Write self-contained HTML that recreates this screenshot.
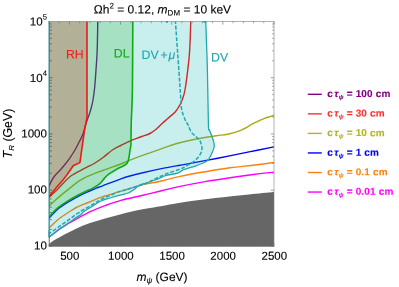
<!DOCTYPE html>
<html><head><meta charset="utf-8"><title>plot</title>
<style>
html,body{margin:0;padding:0;background:#fff}
body{width:399px;height:287px;position:relative;overflow:hidden;font-family:"Liberation Sans",sans-serif;color:#000;-webkit-text-stroke:0.12px currentColor}
.t,.yl,.xl,.lg{position:absolute;left:0;top:0;white-space:nowrap;line-height:1;transform-origin:0 0}
.yl{font-size:11.6px}
.xl{font-size:11.5px}
.lg{line-height:15px;height:15px;font-size:10px;font-weight:bold;letter-spacing:0.18px}
.lg sub{font-size:6.2px;vertical-align:-2.3px;margin-left:0.3px;line-height:0;font-style:italic}
sup{font-size:7.6px;vertical-align:6.1px;line-height:0}
sub{line-height:0}
.s8{font-size:8px;vertical-align:-2px}
</style></head><body><div id="w" style="position:absolute;left:0;top:0;width:399px;height:287px;will-change:transform">
<svg width="399" height="287" viewBox="0 0 399 287" style="position:absolute;left:0;top:0">
<defs><clipPath id="cp"><rect x="49.0" y="21.4" width="225.0" height="225.1"/></clipPath></defs>
<g clip-path="url(#cp)" fill="none" stroke-linejoin="round">
<g stroke-width="1.4">
<path d="M97.80 20.00 C97.70 25.00 97.50 41.67 97.20 50.00 C96.90 58.33 96.43 63.67 96.00 70.00 C95.57 76.33 95.10 83.00 94.60 88.00 C94.10 93.00 93.57 96.67 93.00 100.00 C92.43 103.33 91.83 105.58 91.20 108.00 C90.57 110.42 89.87 112.50 89.20 114.50 C88.53 116.50 87.80 118.25 87.20 120.00 C86.60 121.75 86.33 122.57 85.60 125.00 C84.87 127.43 83.83 131.85 82.80 134.60 C81.77 137.35 80.70 138.93 79.40 141.50 C78.10 144.07 76.63 147.20 75.00 150.00 C73.37 152.80 71.35 155.80 69.60 158.30 C67.85 160.80 66.10 163.00 64.50 165.00 C62.90 167.00 61.58 168.55 60.00 170.30 C58.42 172.05 56.42 173.75 55.00 175.50 C53.58 177.25 52.50 178.97 51.50 180.80 C50.50 182.63 49.75 184.47 49.00 186.50 C48.25 188.53 47.33 191.92 47.00 193.00" stroke="#800080"/>
<path d="M190.80 20.00 C190.70 23.25 190.47 33.40 190.20 39.50 C189.93 45.60 189.68 50.90 189.20 56.60 C188.72 62.30 187.87 68.97 187.30 73.70 C186.73 78.43 186.35 81.55 185.80 85.00 C185.25 88.45 184.82 91.40 184.00 94.40 C183.18 97.40 182.33 100.12 180.90 103.00 C179.47 105.88 177.63 109.08 175.40 111.70 C173.17 114.32 169.85 116.62 167.50 118.70 C165.15 120.78 163.25 122.40 161.30 124.20 C159.35 126.00 157.68 127.95 155.80 129.50 C153.92 131.05 152.33 132.33 150.00 133.50 C147.67 134.67 144.00 135.68 141.80 136.50 C139.60 137.32 138.80 137.63 136.80 138.40 C134.80 139.17 132.45 139.92 129.80 141.10 C127.15 142.28 123.68 144.10 120.90 145.50 C118.12 146.90 116.02 147.55 113.10 149.50 C110.18 151.45 106.42 154.95 103.40 157.20 C100.38 159.45 97.73 161.33 95.00 163.00 C92.27 164.67 89.20 166.07 87.00 167.20 C84.80 168.33 84.55 168.30 81.80 169.80 C79.05 171.30 73.68 173.87 70.50 176.20 C67.32 178.53 65.05 181.40 62.70 183.80 C60.35 186.20 58.35 188.67 56.40 190.60 C54.45 192.53 52.57 194.05 51.00 195.40 C49.43 196.75 47.67 198.15 47.00 198.70" stroke="#ff0808"/>
<path d="M276.00 114.90 C274.08 115.48 268.18 117.02 264.50 118.40 C260.82 119.78 257.85 121.22 253.90 123.20 C249.95 125.18 245.18 128.47 240.80 130.30 C236.42 132.13 231.67 133.30 227.60 134.20 C223.53 135.10 220.88 135.02 216.40 135.70 C211.92 136.38 205.93 137.33 200.70 138.30 C195.47 139.27 189.28 140.55 185.00 141.50 C180.72 142.45 178.73 142.85 175.00 144.00 C171.27 145.15 168.13 146.45 162.60 148.40 C157.07 150.35 147.53 153.62 141.80 155.70 C136.07 157.78 131.68 159.52 128.20 160.90 C124.72 162.28 125.17 162.40 120.90 164.00 C116.63 165.60 108.25 168.40 102.60 170.50 C96.95 172.60 91.03 174.78 87.00 176.60 C82.97 178.42 81.15 179.57 78.40 181.40 C75.65 183.23 73.12 185.52 70.50 187.60 C67.88 189.68 65.28 191.75 62.70 193.90 C60.12 196.05 57.28 198.48 55.00 200.50 C52.72 202.52 50.33 204.75 49.00 206.00 C47.67 207.25 47.33 207.67 47.00 208.00" stroke="#aaaa10"/>
<path d="M276.00 146.50 C271.50 147.40 258.72 149.95 249.00 151.90 C239.28 153.85 228.15 156.17 217.70 158.20 C207.25 160.23 192.58 162.93 186.30 164.10 C180.02 165.27 183.95 164.48 180.00 165.20 C176.05 165.92 168.97 167.10 162.60 168.40 C156.23 169.70 147.23 171.73 141.80 173.00 C136.37 174.27 133.48 175.02 130.00 176.00 C126.52 176.98 125.47 177.27 120.90 178.90 C116.33 180.53 106.45 184.37 102.60 185.80 C98.75 187.23 99.57 186.80 97.80 187.50 C96.03 188.20 93.80 189.23 92.00 190.00 C90.20 190.77 89.28 191.05 87.00 192.10 C84.72 193.15 81.48 194.62 78.30 196.30 C75.12 197.98 71.38 200.00 67.90 202.20 C64.42 204.40 60.55 206.82 57.40 209.50 C54.25 212.18 50.73 216.47 49.00 218.30 C47.27 220.13 47.33 220.13 47.00 220.50" stroke="#0000ff"/>
<path d="M276.00 162.30 C272.50 162.75 262.67 164.08 255.00 165.00 C247.33 165.92 238.33 166.67 230.00 167.80 C221.67 168.93 213.33 170.37 205.00 171.80 C196.67 173.23 187.07 174.92 180.00 176.40 C172.93 177.88 168.27 179.45 162.60 180.70 C156.93 181.95 149.97 183.07 146.00 183.90 C142.03 184.73 141.73 184.85 138.80 185.70 C135.87 186.55 131.53 188.07 128.40 189.00 C125.27 189.93 123.25 190.32 120.00 191.30 C116.75 192.28 112.23 193.85 108.90 194.90 C105.57 195.95 102.78 196.60 100.00 197.60 C97.22 198.60 94.87 199.80 92.20 200.90 C89.53 202.00 86.65 203.10 84.00 204.20 C81.35 205.30 78.42 206.45 76.30 207.50 C74.18 208.55 73.90 208.83 71.30 210.50 C68.70 212.17 63.18 215.75 60.70 217.50 C58.22 219.25 58.35 219.25 56.40 221.00 C54.45 222.75 50.57 226.47 49.00 228.00 C47.43 229.53 47.33 229.83 47.00 230.20" stroke="#ff8010"/>
<path d="M276.00 171.90 C272.50 172.30 262.67 173.33 255.00 174.30 C247.33 175.27 238.33 176.48 230.00 177.70 C221.67 178.92 213.33 180.15 205.00 181.60 C196.67 183.05 187.07 184.92 180.00 186.40 C172.93 187.88 168.97 188.98 162.60 190.50 C156.23 192.02 148.75 193.85 141.80 195.50 C134.85 197.15 127.03 198.70 120.90 200.40 C114.77 202.10 109.82 203.95 105.00 205.70 C100.18 207.45 95.17 209.55 92.00 210.90 C88.83 212.25 87.83 212.88 86.00 213.80 C84.17 214.72 82.45 215.62 81.00 216.40 C79.55 217.18 78.78 217.67 77.30 218.50 C75.82 219.33 73.83 220.43 72.10 221.40 C70.37 222.37 68.63 223.25 66.90 224.30 C65.17 225.35 63.45 226.50 61.70 227.70 C59.95 228.90 58.48 229.95 56.40 231.50 C54.32 233.05 50.77 235.78 49.20 237.00 C47.63 238.22 47.37 238.50 47.00 238.80" stroke="#ff00ff"/>
</g>
<path d="M205.70 20.00 C205.98 28.33 206.95 52.62 207.40 70.00 C207.85 87.38 208.05 114.30 208.40 124.30 C208.75 134.30 208.73 127.47 209.50 130.00 C210.27 132.53 212.22 136.75 213.00 139.50 C213.78 142.25 214.53 143.92 214.20 146.50 C213.87 149.08 212.20 152.58 211.00 155.00 C209.80 157.42 209.50 159.20 207.00 161.00 C204.50 162.80 198.58 164.77 196.00 165.80 C193.42 166.83 193.12 166.70 191.50 167.20 C189.88 167.70 187.85 168.28 186.30 168.80 C184.75 169.32 183.42 169.68 182.20 170.30 C180.98 170.92 180.05 171.97 179.00 172.50 C177.95 173.03 178.17 172.98 175.90 173.50 C173.63 174.02 168.02 174.87 165.40 175.60 C162.78 176.33 161.93 177.17 160.20 177.90 C158.47 178.63 157.37 179.15 155.00 180.00 C152.63 180.85 148.70 182.05 146.00 183.00 C143.30 183.95 140.80 184.62 138.80 185.70 C136.80 186.78 135.73 188.28 134.00 189.50 C132.27 190.72 130.73 192.07 128.40 193.00 C126.07 193.93 123.07 194.27 120.00 195.10 C116.93 195.93 113.33 196.93 110.00 198.00 C106.67 199.07 103.25 199.92 100.00 201.50 C96.75 203.08 93.17 205.87 90.50 207.50 C87.83 209.13 85.58 210.12 84.00 211.30 C82.42 212.48 82.12 213.67 81.00 214.60 C79.88 215.53 78.78 215.92 77.30 216.90 C75.82 217.88 73.83 219.32 72.10 220.50 C70.37 221.68 68.63 222.82 66.90 224.00 C65.17 225.18 63.45 226.35 61.70 227.60 C59.95 228.85 58.48 229.93 56.40 231.50 C54.32 233.07 50.77 235.78 49.20 237.00 C47.63 238.22 47.37 238.50 47.00 238.80 L47.00 219.20 C47.33 218.83 47.27 218.83 49.00 217.00 C50.73 215.17 54.25 210.88 57.40 208.20 C60.55 205.52 64.42 203.10 67.90 200.90 C71.38 198.70 75.12 196.68 78.30 195.00 C81.48 193.32 84.72 191.87 87.00 190.80 C89.28 189.73 90.20 189.53 92.00 188.60 C93.80 187.67 96.38 186.13 97.80 185.20 C99.22 184.27 99.43 184.10 100.50 183.00 C101.57 181.90 102.88 180.03 104.20 178.60 C105.52 177.17 106.32 175.97 108.40 174.40 C110.48 172.83 113.93 170.77 116.70 169.20 C119.47 167.63 123.08 166.38 125.00 165.00 C126.92 163.62 127.32 163.67 128.20 160.90 C129.08 158.13 129.85 151.17 130.30 148.40 C130.75 145.63 130.73 148.82 130.90 144.30 C131.07 139.78 131.05 130.35 131.30 121.30 C131.55 112.25 132.15 106.88 132.40 90.00 C132.65 73.12 132.73 31.67 132.80 20.00 Z" fill="#00b0b0" fill-opacity="0.21" stroke="none"/>
<path d="M132.80 20.00 C132.73 31.67 132.65 73.12 132.40 90.00 C132.15 106.88 131.55 112.25 131.30 121.30 C131.05 130.35 131.07 139.78 130.90 144.30 C130.73 148.82 130.75 145.63 130.30 148.40 C129.85 151.17 129.08 158.13 128.20 160.90 C127.32 163.67 126.92 163.62 125.00 165.00 C123.08 166.38 119.47 167.63 116.70 169.20 C113.93 170.77 110.48 172.83 108.40 174.40 C106.32 175.97 105.52 177.17 104.20 178.60 C102.88 180.03 101.57 181.90 100.50 183.00 C99.43 184.10 99.22 184.27 97.80 185.20 C96.38 186.13 93.80 187.67 92.00 188.60 C90.20 189.53 89.28 189.73 87.00 190.80 C84.72 191.87 81.48 193.32 78.30 195.00 C75.12 196.68 71.38 198.70 67.90 200.90 C64.42 203.10 60.55 205.52 57.40 208.20 C54.25 210.88 50.73 215.17 49.00 217.00 C47.27 218.83 47.33 218.83 47.00 219.20 L47.00 199.00 L49.40 196.20 L56.40 187.60 L62.70 180.20 L67.40 174.30 L73.20 165.80 L79.90 162.60 L84.50 130.40 L87.00 117.50 L87.00 20.00 Z" fill="#00a954" fill-opacity="0.35" stroke="none"/>
<path d="M87.00 20.00 L87.00 117.50 L84.50 130.40 L79.90 162.60 L73.20 165.80 L67.40 174.30 L62.70 180.20 L56.40 187.60 L49.40 196.20 L47.00 199.00 L47 20 Z" fill="#65612d" fill-opacity="0.5" stroke="none"/>
<path d="M205.70 20.00 C205.98 28.33 206.95 52.62 207.40 70.00 C207.85 87.38 208.05 114.30 208.40 124.30 C208.75 134.30 208.73 127.47 209.50 130.00 C210.27 132.53 212.22 136.75 213.00 139.50 C213.78 142.25 214.53 143.92 214.20 146.50 C213.87 149.08 212.20 152.58 211.00 155.00 C209.80 157.42 209.50 159.20 207.00 161.00 C204.50 162.80 198.58 164.77 196.00 165.80 C193.42 166.83 193.12 166.70 191.50 167.20 C189.88 167.70 187.85 168.28 186.30 168.80 C184.75 169.32 183.42 169.68 182.20 170.30 C180.98 170.92 180.05 171.97 179.00 172.50 C177.95 173.03 178.17 172.98 175.90 173.50 C173.63 174.02 168.02 174.87 165.40 175.60 C162.78 176.33 161.93 177.17 160.20 177.90 C158.47 178.63 157.37 179.15 155.00 180.00 C152.63 180.85 148.70 182.05 146.00 183.00 C143.30 183.95 140.80 184.62 138.80 185.70 C136.80 186.78 135.73 188.28 134.00 189.50 C132.27 190.72 130.73 192.07 128.40 193.00 C126.07 193.93 123.07 194.27 120.00 195.10 C116.93 195.93 113.33 196.93 110.00 198.00 C106.67 199.07 103.25 199.92 100.00 201.50 C96.75 203.08 93.17 205.87 90.50 207.50 C87.83 209.13 85.58 210.12 84.00 211.30 C82.42 212.48 82.12 213.67 81.00 214.60 C79.88 215.53 78.78 215.92 77.30 216.90 C75.82 217.88 73.83 219.32 72.10 220.50 C70.37 221.68 68.63 222.82 66.90 224.00 C65.17 225.18 63.45 226.35 61.70 227.60 C59.95 228.85 58.48 229.93 56.40 231.50 C54.32 233.07 50.77 235.78 49.20 237.00 C47.63 238.22 47.37 238.50 47.00 238.80" stroke="#1fa8ad" stroke-width="1.3"/>
<path d="M175.30 20.00 C175.92 28.67 178.10 59.15 179.00 72.00 C179.90 84.85 180.25 90.82 180.70 97.10 C181.15 103.38 180.95 105.88 181.70 109.70 C182.45 113.52 184.13 117.45 185.20 120.00 C186.27 122.55 187.08 123.00 188.10 125.00 C189.12 127.00 189.98 130.03 191.30 132.00 C192.62 133.97 194.57 135.35 196.00 136.80 C197.43 138.25 198.90 138.75 199.90 140.70 C200.90 142.65 202.00 146.15 202.00 148.50 C202.00 150.85 201.17 152.72 199.90 154.80 C198.63 156.88 196.88 159.03 194.40 161.00 C191.92 162.97 187.40 165.23 185.00 166.60 C182.60 167.97 182.68 168.17 180.00 169.20 C177.32 170.23 172.23 171.58 168.90 172.80 C165.57 174.02 162.82 175.22 160.00 176.50 C157.18 177.78 154.33 179.32 152.00 180.50 C149.67 181.68 148.20 182.73 146.00 183.60 C143.80 184.47 141.73 184.80 138.80 185.70 C135.87 186.60 131.53 188.05 128.40 189.00 C125.27 189.95 123.07 190.30 120.00 191.40 C116.93 192.50 113.33 194.17 110.00 195.60 C106.67 197.03 103.00 198.43 100.00 200.00 C97.00 201.57 94.90 203.30 92.00 205.00 C89.10 206.70 85.05 208.77 82.60 210.20 C80.15 211.63 79.05 212.42 77.30 213.60 C75.55 214.78 73.83 216.05 72.10 217.30 C70.37 218.55 68.63 219.85 66.90 221.10 C65.17 222.35 63.45 223.55 61.70 224.80 C59.95 226.05 58.48 227.15 56.40 228.60 C54.32 230.05 50.77 232.43 49.20 233.50 C47.63 234.57 47.37 234.75 47.00 235.00" stroke="#1fa8ad" stroke-width="1.5" stroke-dasharray="4 1.75"/>
<path d="M132.80 20.00 C132.73 31.67 132.65 73.12 132.40 90.00 C132.15 106.88 131.55 112.25 131.30 121.30 C131.05 130.35 131.07 139.78 130.90 144.30 C130.73 148.82 130.75 145.63 130.30 148.40 C129.85 151.17 129.08 158.13 128.20 160.90 C127.32 163.67 126.92 163.62 125.00 165.00 C123.08 166.38 119.47 167.63 116.70 169.20 C113.93 170.77 110.48 172.83 108.40 174.40 C106.32 175.97 105.52 177.17 104.20 178.60 C102.88 180.03 101.57 181.90 100.50 183.00 C99.43 184.10 99.22 184.27 97.80 185.20 C96.38 186.13 93.80 187.67 92.00 188.60 C90.20 189.53 89.28 189.73 87.00 190.80 C84.72 191.87 81.48 193.32 78.30 195.00 C75.12 196.68 71.38 198.70 67.90 200.90 C64.42 203.10 60.55 205.52 57.40 208.20 C54.25 210.88 50.73 215.17 49.00 217.00 C47.27 218.83 47.33 218.83 47.00 219.20" stroke="#10a818" stroke-width="1.6"/>
<path d="M87.00 20.00 L87.00 117.50 L84.50 130.40 L79.90 162.60 L73.20 165.80 L67.40 174.30 L62.70 180.20 L56.40 187.60 L49.40 196.20 L47.00 199.00" stroke="#f01818" stroke-width="1.6"/>
<path d="M47.00 245.40 C47.33 245.17 47.83 244.85 49.00 244.00 C50.17 243.15 52.17 241.48 54.00 240.30 C55.83 239.12 56.50 238.75 60.00 236.90 C63.50 235.05 70.00 231.50 75.00 229.20 C80.00 226.90 85.00 224.90 90.00 223.10 C95.00 221.30 100.00 219.85 105.00 218.40 C110.00 216.95 115.00 215.67 120.00 214.40 C125.00 213.13 130.00 211.87 135.00 210.80 C140.00 209.73 145.00 208.88 150.00 208.00 C155.00 207.12 158.95 206.53 165.00 205.50 C171.05 204.47 177.52 203.08 186.30 201.80 C195.08 200.52 207.25 199.03 217.70 197.80 C228.15 196.57 239.28 195.40 249.00 194.40 C258.72 193.40 271.50 192.23 276.00 191.80 L276 249 L47 249 Z" fill="#666666" stroke="none"/>
</g>
<path d="M48.5 21.3V231" stroke="#a4ebf4" stroke-width="1.0" fill="none"/>
<path d="M49.45 21.5V246.5" stroke="#444" stroke-width="0.9" stroke-opacity="0.6" fill="none"/>
<path d="M48.7 230.5V237.6" stroke="#1fa8ad" stroke-width="1.1" stroke-opacity="0.9" fill="none"/>
<path d="M165.8 21.9h2.2M203.4 21.9h3" stroke="#1fa8ad" stroke-width="1.6" fill="none"/>
<path d="M49.50 246.50 h3.00 M49.50 229.56 h2.30 M49.50 219.65 h2.30 M49.50 212.62 h2.30 M49.50 207.17 h2.30 M49.50 202.71 h2.30 M49.50 198.94 h2.30 M49.50 195.68 h2.30 M49.50 192.80 h2.30 M49.50 190.22 h3.00 M49.50 173.28 h2.30 M49.50 163.38 h2.30 M49.50 156.34 h2.30 M49.50 150.89 h2.30 M49.50 146.43 h2.30 M49.50 142.67 h2.30 M49.50 139.40 h2.30 M49.50 136.53 h2.30 M49.50 133.95 h3.00 M49.50 117.01 h2.30 M49.50 107.10 h2.30 M49.50 100.07 h2.30 M49.50 94.62 h2.30 M49.50 90.16 h2.30 M49.50 86.39 h2.30 M49.50 83.13 h2.30 M49.50 80.25 h2.30 M49.50 77.68 h3.00 M49.50 60.73 h2.30 M49.50 50.83 h2.30 M49.50 43.79 h2.30 M49.50 38.34 h2.30 M49.50 33.88 h2.30 M49.50 30.12 h2.30 M49.50 26.85 h2.30 M49.50 23.98 h2.30 " stroke="#444" stroke-width="0.8" stroke-opacity="0.8" fill="none"/>
<path d="M274.00 246.50 h-3.20 M274.00 229.56 h-1.80 M274.00 219.65 h-1.80 M274.00 212.62 h-1.80 M274.00 207.17 h-1.80 M274.00 202.71 h-1.80 M274.00 198.94 h-1.80 M274.00 195.68 h-1.80 M274.00 192.80 h-1.80 M274.00 190.22 h-3.20 M274.00 173.28 h-1.80 M274.00 163.38 h-1.80 M274.00 156.34 h-1.80 M274.00 150.89 h-1.80 M274.00 146.43 h-1.80 M274.00 142.67 h-1.80 M274.00 139.40 h-1.80 M274.00 136.53 h-1.80 M274.00 133.95 h-3.20 M274.00 117.01 h-1.80 M274.00 107.10 h-1.80 M274.00 100.07 h-1.80 M274.00 94.62 h-1.80 M274.00 90.16 h-1.80 M274.00 86.39 h-1.80 M274.00 83.13 h-1.80 M274.00 80.25 h-1.80 M274.00 77.68 h-3.20 M274.00 60.73 h-1.80 M274.00 50.83 h-1.80 M274.00 43.79 h-1.80 M274.00 38.34 h-1.80 M274.00 33.88 h-1.80 M274.00 30.12 h-1.80 M274.00 26.85 h-1.80 M274.00 23.98 h-1.80 M49.00 246.50 v-1.80 M49.00 21.40 v1.80 M59.23 246.50 v-1.80 M59.23 21.40 v1.80 M69.45 246.50 v-3.20 M69.45 21.40 v3.20 M79.68 246.50 v-1.80 M79.68 21.40 v1.80 M89.91 246.50 v-1.80 M89.91 21.40 v1.80 M100.14 246.50 v-1.80 M100.14 21.40 v1.80 M110.36 246.50 v-1.80 M110.36 21.40 v1.80 M120.59 246.50 v-3.20 M120.59 21.40 v3.20 M130.82 246.50 v-1.80 M130.82 21.40 v1.80 M141.05 246.50 v-1.80 M141.05 21.40 v1.80 M151.27 246.50 v-1.80 M151.27 21.40 v1.80 M161.50 246.50 v-1.80 M161.50 21.40 v1.80 M171.73 246.50 v-3.20 M171.73 21.40 v3.20 M181.95 246.50 v-1.80 M181.95 21.40 v1.80 M192.18 246.50 v-1.80 M192.18 21.40 v1.80 M202.41 246.50 v-1.80 M202.41 21.40 v1.80 M212.64 246.50 v-1.80 M212.64 21.40 v1.80 M222.86 246.50 v-3.20 M222.86 21.40 v3.20 M233.09 246.50 v-1.80 M233.09 21.40 v1.80 M243.32 246.50 v-1.80 M243.32 21.40 v1.80 M253.55 246.50 v-1.80 M253.55 21.40 v1.80 M263.77 246.50 v-1.80 M263.77 21.40 v1.80 M274.00 246.50 v-3.20 M274.00 21.40 v3.20 " stroke="#666" stroke-width="0.7" stroke-opacity="0.85" fill="none"/>
<rect x="49.0" y="21.4" width="225.0" height="225.1" fill="none" stroke="#808080" stroke-width="0.6"/>
<g stroke-width="1.4" fill="none">
<path d="M307.8 94.3H321.8" stroke="#800080"/>
<path d="M307.8 113.85H321.8" stroke="#ff3030"/>
<path d="M307.8 133.4H321.8" stroke="#b4b420"/>
<path d="M307.8 152.95H321.8" stroke="#0000ff"/>
<path d="M307.8 172.5H321.8" stroke="#ff8010"/>
<path d="M307.8 192.05H321.8" stroke="#ff00ff"/>
</g>
</svg>
<div class="t" style="transform:translate(93.80px,3.40px) matrix(1,0.0006,0,1,0,0);font-size:12px">Ωh<sup style="font-size:8px;vertical-align:5px">2</sup> = 0.12, <i>m</i><sub class="s8">DM</sub> = 10 keV</div>
<div class="yl" style="transform:translate(47.00px,15.50px) translateX(-100%) matrix(1,0.0006,0,1,0,0)">10<sup>5</sup></div>
<div class="yl" style="transform:translate(47.00px,71.88px) translateX(-100%) matrix(1,0.0006,0,1,0,0)">10<sup>4</sup></div>
<div class="yl" style="transform:translate(47.00px,127.55px) translateX(-100%) matrix(1,0.0006,0,1,0,0)">1000</div>
<div class="yl" style="transform:translate(47.00px,183.57px) translateX(-100%) matrix(1,0.0006,0,1,0,0)">100</div>
<div class="yl" style="transform:translate(47.00px,239.50px) translateX(-100%) matrix(1,0.0006,0,1,0,0)">10</div>
<div class="xl" style="transform:translate(69.75px,250.70px) translateX(-50%) matrix(1,0.0006,0,1,0,0)">500</div>
<div class="xl" style="transform:translate(120.89px,250.70px) translateX(-50%) matrix(1,0.0006,0,1,0,0)">1000</div>
<div class="xl" style="transform:translate(172.03px,250.70px) translateX(-50%) matrix(1,0.0006,0,1,0,0)">1500</div>
<div class="xl" style="transform:translate(223.16px,250.70px) translateX(-50%) matrix(1,0.0006,0,1,0,0)">2000</div>
<div class="xl" style="transform:translate(274.30px,250.70px) translateX(-50%) matrix(1,0.0006,0,1,0,0)">2500</div>
<div class="t" style="transform:translate(162.00px,271.00px) translateX(-50%) matrix(1,0.0006,0,1,0,0);font-size:12px"><i>m</i><sub class="s8"><i>ψ</i></sub> (GeV)</div>
<div class="t" style="transform:translate(8.3px,133.5px) translate(-50%,-50%) rotate(-89.98deg);transform-origin:50% 50%;font-size:12.3px"><i>T</i><sub class="s8"><i>R</i></sub> (GeV)</div>
<div class="t" style="transform:translate(65.90px,48.50px) matrix(1,0.0006,0,1,0,0);font-size:12.3px;color:#f02020">RH</div>
<div class="t" style="transform:translate(113.80px,47.50px) matrix(1,0.0006,0,1,0,0);font-size:12.3px;color:#10a818">DL</div>
<div class="t" style="transform:translate(141.60px,49.00px) matrix(1,0.0006,0,1,0,0);font-size:12.3px;color:#1fa8ad">DV<span style="margin:0 0.9px 0 1.7px">+</span><i>μ</i></div>
<div class="t" style="transform:translate(211.00px,51.50px) matrix(1,0.0006,0,1,0,0);font-size:12.3px;color:#1fa8ad">DV</div>
<div class="lg" style="transform:translate(327.30px,86.00px) matrix(1,0.0006,0,1,0,0);color:#800080">c<i style="margin-left:1.1px">τ</i><sub>ψ</sub> = 100 cm</div>
<div class="lg" style="transform:translate(327.30px,105.55px) matrix(1,0.0006,0,1,0,0);color:#ff3030">c<i style="margin-left:1.1px">τ</i><sub>ψ</sub> = 30 cm</div>
<div class="lg" style="transform:translate(327.30px,125.10px) matrix(1,0.0006,0,1,0,0);color:#b4b420">c<i style="margin-left:1.1px">τ</i><sub>ψ</sub> = 10 cm</div>
<div class="lg" style="transform:translate(327.30px,144.65px) matrix(1,0.0006,0,1,0,0);color:#0000ff">c<i style="margin-left:1.1px">τ</i><sub>ψ</sub> = 1 cm</div>
<div class="lg" style="transform:translate(327.30px,164.20px) matrix(1,0.0006,0,1,0,0);color:#ff8010">c<i style="margin-left:1.1px">τ</i><sub>ψ</sub> = 0.1 cm</div>
<div class="lg" style="transform:translate(327.30px,183.75px) matrix(1,0.0006,0,1,0,0);color:#ff00ff">c<i style="margin-left:1.1px">τ</i><sub>ψ</sub> = 0.01 cm</div>
</div></body></html>
